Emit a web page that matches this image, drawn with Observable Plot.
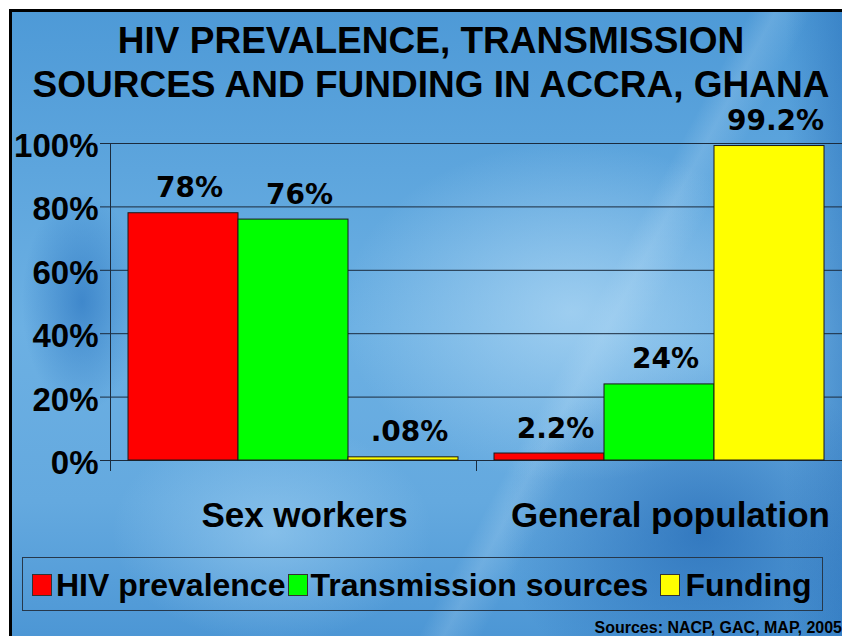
<!DOCTYPE html>
<html>
<head>
<meta charset="utf-8">
<script src="https://cdn.jsdelivr.net/npm/d3@7"></script>
<script src="https://cdn.jsdelivr.net/npm/@observablehq/plot@0.6"></script>
<style>
  html, body { margin: 0; padding: 0; background: #fff; overflow: hidden; }
  #page { position: relative; width: 842px; height: 636px; overflow: hidden; font-family: "Liberation Sans", Arial, sans-serif; }
  #slide {
    position: absolute; left: 9px; top: 9px; width: 900px; height: 700px;
    border-top: 3px solid #000; border-left: 3px solid #000;
    background:
      radial-gradient(ellipse 60px 110px at 70px 290px, rgba(35,110,188,0.6), rgba(35,110,188,0)),
      radial-gradient(ellipse 230px 170px at 560px 300px, rgba(185,222,247,0.65), rgba(185,222,247,0)),
      radial-gradient(ellipse 160px 110px at 260px 520px, rgba(165,212,244,0.55), rgba(165,212,244,0)),
      radial-gradient(ellipse 200px 170px at 690px 520px, rgba(22,92,172,0.6), rgba(22,92,172,0)),
      linear-gradient(90deg, rgba(20,90,170,0) 86%, rgba(20,90,170,0.75) 100%),
      linear-gradient(118deg, rgba(210,235,252,0) 58%, rgba(210,235,252,0.18) 60%, rgba(210,235,252,0) 63%),
      linear-gradient(180deg, #4e9ad7 0%, #6cb0e3 45%, #64a9df 70%, #3f8ccf 100%);
  }
  #title { position: absolute; left: 0; top: 19px; width: 862px; text-align: center; font-weight: bold; font-size: 37px; line-height: 44px; color: #000; }
  #chart { position: absolute; left: 0; top: 0; }
  #legend { position: absolute; left: 22px; top: 557px; width: 790px; height: 50px; border: 1px solid #26384b; display: flex; align-items: center; padding-left: 9px; padding-top: 2px; box-sizing: content-box; }
  #legend .sw { width: 18px; height: 20px; border: 1px solid #333; flex: none; }
  #legend .lt { font-size: 32px; font-weight: bold; line-height: 32px; color: #000; white-space: nowrap; }
  #sources { position: absolute; right: 0; top: 620px; font-size: 16px; line-height: 16px; font-weight: bold; color: #000; white-space: nowrap; }
</style>
</head>
<body>
<div id="page">
  <div id="slide"></div>
  <div id="title">HIV PREVALENCE, TRANSMISSION<br>SOURCES AND FUNDING IN ACCRA, GHANA</div>
  <div id="chart"></div>
  <div id="legend"></div>
  <div id="sources">Sources: NACP, GAC, MAP, 2005</div>
</div>
<script>
const groups = ["Sex workers", "General population"];
const series = ["HIV prevalence", "Transmission sources", "Funding"];
const sexWorkersValues = [78, 76, 1];
const generalPopulationValues = [2.2, 24, 99.2];
const sexWorkersLabels = ["78%", "76%", ".08%"];
const generalPopulationLabels = ["2.2%", "24%", "99.2%"];
const colors = ["#ff0000", "#00ff00", "#ffff00"];
const yTicks = [0, 20, 40, 60, 80, 100];

// legend first so it always renders
const legend = document.getElementById("legend");
const gaps = [[4, 3], [2, 12], [5, 0]];
series.forEach((s, i) => {
  const sw = document.createElement("span");
  sw.className = "sw";
  sw.style.background = colors[i];
  sw.style.marginRight = gaps[i][0] + "px";
  const t = document.createElement("span");
  t.className = "lt";
  t.textContent = s;
  t.style.marginRight = gaps[i][1] + "px";
  legend.appendChild(sw);
  legend.appendChild(t);
});

const valuesByGroup = [sexWorkersValues, generalPopulationValues];
const labelsByGroup = [sexWorkersLabels, generalPopulationLabels];
const data = [];
groups.forEach((g, gi) => {
  series.forEach((s, si) => {
    data.push({group: g, series: s, value: valuesByGroup[gi][si], label: labelsByGroup[gi][si]});
  });
});

const H = 545, MT = 143, MB = 85;
const frameHeight = H - MT - MB;

const chart = Plot.plot({
  width: 842,
  height: H,
  marginTop: MT,
  marginBottom: MB,
  marginLeft: 110,
  marginRight: 0,
  style: {background: "transparent", overflow: "visible"},
  fx: {domain: groups, padding: 0},
  x: {domain: series, paddingInner: 0, paddingOuter: 0.149, axis: null},
  y: {domain: [0, 100]},
  color: {domain: series, range: colors},
  marks: [
    Plot.ruleY(yTicks, {stroke: "#1b2b3d", strokeWidth: 1}),
    Plot.frame({anchor: "left", stroke: "#1b2b3d", insetBottom: -10, facetAnchor: "left"}),
    Plot.frame({anchor: "left", stroke: "#1b2b3d", insetTop: frameHeight, insetBottom: -10, facetAnchor: "right"}),
    Plot.axisY({ticks: yTicks, tickSize: 10, stroke: "#1b2b3d", fill: "none", label: null}),
    Plot.axisY({ticks: yTicks, tickSize: 0, tickPadding: 12, tickFormat: d => d + "%", fontSize: 33, fontWeight: "bold", fontFamily: "Liberation Sans, Arial, sans-serif", fill: "#000", dy: 3, label: null}),
    Plot.barY(data, {fx: "group", x: "series", y: "value", fill: "series", stroke: "#1a1a1a", strokeWidth: 1}),
    Plot.text(data, {fx: "group", x: "series", y: "value", text: "label", lineAnchor: "bottom", dy: -16, dx: 6, fontSize: 28, fontWeight: "bold", fontFamily: "DejaVu Sans, Verdana, sans-serif", fill: "#000"}),
    Plot.axisFx({anchor: "bottom", tickSize: 0, tickPadding: 42, fontSize: 35, fontWeight: "bold", fontFamily: "Liberation Sans, Arial, sans-serif", fill: "#000", dx: 11, label: null})
  ]
});
document.getElementById("chart").appendChild(chart);
</script>
</body>
</html>
